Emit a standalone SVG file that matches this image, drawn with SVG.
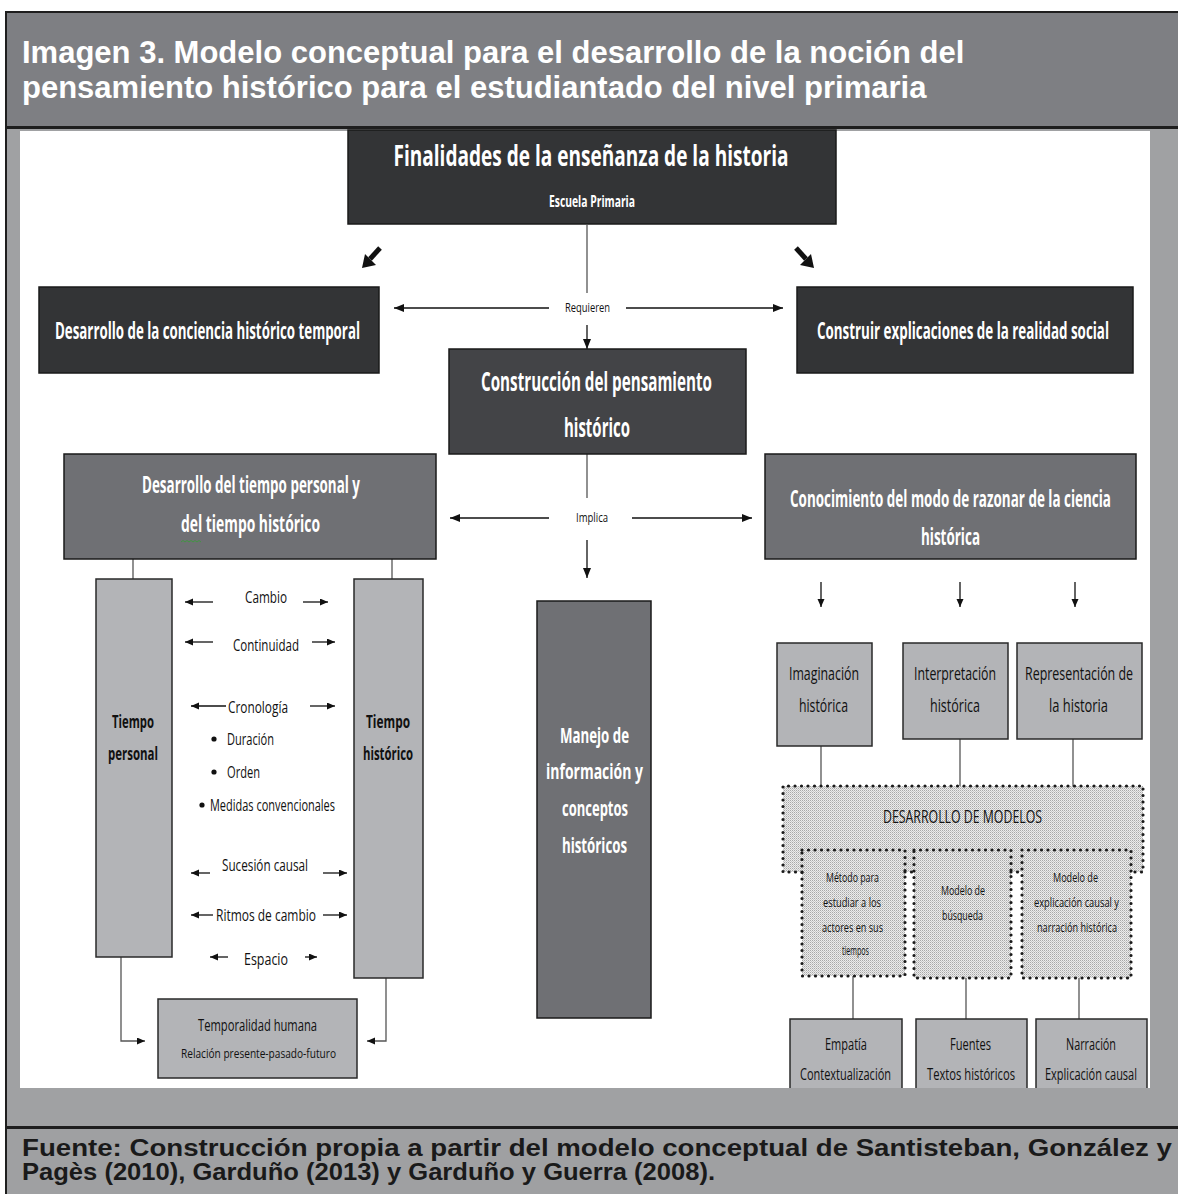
<svg xmlns="http://www.w3.org/2000/svg" width="1178" height="1194" viewBox="0 0 1178 1194">
<defs>
<marker id="ah" markerUnits="userSpaceOnUse" markerWidth="11" markerHeight="9" refX="10" refY="4" orient="auto"><path d="M0,0 L10,4 L0,8 z" fill="#111"/></marker>
<marker id="sm" markerUnits="userSpaceOnUse" markerWidth="9" markerHeight="8" refX="8" refY="3.5" orient="auto"><path d="M0,0 L8,3.5 L0,7 z" fill="#111"/></marker>
<pattern id="stip" width="2" height="2" patternUnits="userSpaceOnUse"><rect width="2" height="2" fill="#ececec"/><rect width="1" height="1" fill="#a8a8a8"/><rect x="1" y="1" width="1" height="1" fill="#c8c8c8"/></pattern>
<style>
.t{font-family:"Liberation Sans Narrow","Open Sans","Liberation Sans",sans-serif;text-anchor:middle}
.w{fill:#fff;font-weight:bold}
.k{fill:#111}
.b{font-weight:bold}
.dark{fill:#333436;stroke:#1a1a1a;stroke-width:1.5}
.mid{fill:#434447;stroke:#1a1a1a;stroke-width:1.5}
.gry{fill:#6f7074;stroke:#1a1a1a;stroke-width:1.5}
.lt{fill:#b3b4b7;stroke:#2a2a2a;stroke-width:1.5}
.ln{fill:none;stroke:#111;stroke-width:1.3}
.gl{fill:none;stroke:#555;stroke-width:1.3}
.dot{fill:none;stroke:#1a1a1a;stroke-width:3.2;stroke-dasharray:0 6.5;stroke-linecap:round}
.hd{font-family:"Liberation Sans",Arial,sans-serif;font-weight:bold;fill:#fff}
.ft{font-family:"Liberation Sans",Arial,sans-serif;font-weight:bold;fill:#1a1a1a}
</style>
</defs>
<!-- frame -->
<rect x="0" y="0" width="1178" height="1194" fill="#fff"/>
<rect x="6" y="12" width="1180" height="1190" fill="#a0a1a3" stroke="#1e1e1e" stroke-width="2"/>
<rect x="7" y="13" width="1171" height="113" fill="#7e7f83"/>
<rect x="6" y="126" width="1172" height="3" fill="#1e1e1e"/>
<rect x="20" y="131" width="1130" height="957" fill="#fff"/>
<text class="hd" x="22" y="63" font-size="31">Imagen 3. Modelo conceptual para el desarrollo de la noción del</text>
<text class="hd" x="22" y="98" font-size="31">pensamiento histórico para el estudiantado del nivel primaria</text>

<g id="connectors">
<path class="gl" d="M587,225 V293"/>
<path class="ln" d="M587,325 V349" marker-end="url(#ah)"/>
<path class="ln" d="M549,308 H394" marker-end="url(#ah)"/>
<path class="ln" d="M626,308 H783" marker-end="url(#ah)"/>
<path class="gl" d="M587,454 V498"/>
<path class="ln" d="M549,518 H450" marker-end="url(#ah)"/>
<path class="ln" d="M632,518 H752" marker-end="url(#ah)"/>
<path class="ln" d="M587,540 V578" marker-end="url(#ah)"/>
<path d="M380,248 L370,259" stroke="#111" stroke-width="5" fill="none"/>
<polygon points="362,268 365,254 376,265" fill="#111"/>
<path d="M796,248 L806,259" stroke="#111" stroke-width="5" fill="none"/>
<polygon points="814,268 811,254 800,265" fill="#111"/>
<path class="gl" d="M133,559 V579"/>
<path class="gl" d="M392,559 V579"/>
<path class="ln" d="M213,602 H185" marker-end="url(#sm)"/>
<path class="ln" d="M303,602 H328" marker-end="url(#sm)"/>
<path class="ln" d="M213,642 H185" marker-end="url(#sm)"/>
<path class="ln" d="M312,642 H335" marker-end="url(#sm)"/>
<path class="ln" d="M226,706 H191" marker-end="url(#sm)"/>
<path class="ln" d="M310,706 H335" marker-end="url(#sm)"/>
<path class="ln" d="M210,873 H191" marker-end="url(#sm)"/>
<path class="ln" d="M323,873 H347" marker-end="url(#sm)"/>
<path class="ln" d="M213,915 H191" marker-end="url(#sm)"/>
<path class="ln" d="M323,915 H347" marker-end="url(#sm)"/>
<path class="ln" d="M228,957 H210" marker-end="url(#sm)"/>
<path class="ln" d="M305,957 H317" marker-end="url(#sm)"/>
<path class="gl" d="M121,957 V1041 H145" marker-end="url(#sm)"/>
<path class="gl" d="M386,978 V1041 H367" marker-end="url(#sm)"/>
<path class="ln" d="M821,582 V607" marker-end="url(#sm)"/>
<path class="ln" d="M960,582 V607" marker-end="url(#sm)"/>
<path class="ln" d="M1075,582 V607" marker-end="url(#sm)"/>
<path class="gl" d="M821,746 V786"/>
<path class="gl" d="M960,739 V786"/>
<path class="gl" d="M1073,739 V786"/>
<path class="gl" d="M853,976 V1019"/>
<path class="gl" d="M966,978 V1019"/>
<path class="gl" d="M1079,978 V1019"/>
</g>

<g id="n-finalidades">
<rect class="dark" x="348" y="130" width="488" height="94"/>
<text class="t w" x="591" y="166" font-size="29" textLength="395" lengthAdjust="spacingAndGlyphs">Finalidades de la enseñanza de la historia</text>
<text class="t w" x="592" y="207" font-size="16" textLength="86" lengthAdjust="spacingAndGlyphs">Escuela Primaria</text>
</g>
<g id="n-conciencia">
<rect class="dark" x="39" y="287" width="340" height="86"/>
<text class="t w" x="207.5" y="339" font-size="24" textLength="305" lengthAdjust="spacingAndGlyphs">Desarrollo de la conciencia histórico temporal</text>
</g>
<g id="n-construir">
<rect class="dark" x="797" y="287" width="336" height="86"/>
<text class="t w" x="963" y="339" font-size="24" textLength="292" lengthAdjust="spacingAndGlyphs">Construir explicaciones de la realidad social</text>
</g>
<g id="l-requieren"><text class="t k" x="587.5" y="312" font-size="12" textLength="45" lengthAdjust="spacingAndGlyphs">Requieren</text></g>
<g id="n-construccion">
<rect class="mid" x="449" y="349" width="297" height="105"/>
<text class="t w" x="596.5" y="391" font-size="27" textLength="231" lengthAdjust="spacingAndGlyphs">Construcción del pensamiento</text>
<text class="t w" x="597" y="437" font-size="27" textLength="66" lengthAdjust="spacingAndGlyphs">histórico</text>
</g>
<g id="l-implica"><text class="t k" x="592" y="522" font-size="12" textLength="32" lengthAdjust="spacingAndGlyphs">Implica</text></g>
<g id="n-tiempo">
<rect class="gry" x="64" y="454" width="372" height="105"/>
<text class="t w" x="251" y="493" font-size="23" textLength="218" lengthAdjust="spacingAndGlyphs">Desarrollo del tiempo personal y</text>
<text class="t w" x="250.5" y="532" font-size="23" textLength="139" lengthAdjust="spacingAndGlyphs">del  tiempo histórico</text>
<path d="M181,542 l2,-1.5 l2,1.5 l2,-1.5 l2,1.5 l2,-1.5 l2,1.5 l2,-1.5 l2,1.5 l2,-1.5 l2,1.5" fill="none" stroke="#3c9a3c" stroke-width="0.9"/>
</g>
<g id="n-conocimiento">
<rect class="gry" x="765" y="454" width="371" height="105"/>
<text class="t w" x="950.5" y="507" font-size="24" textLength="321" lengthAdjust="spacingAndGlyphs">Conocimiento del modo de razonar de la ciencia</text>
<text class="t w" x="950.5" y="545" font-size="24" textLength="59" lengthAdjust="spacingAndGlyphs">histórica</text>
</g>
<g id="n-tpersonal">
<rect class="lt" x="96" y="579" width="76" height="378"/>
<text class="t k b" x="133" y="728" font-size="18" textLength="42" lengthAdjust="spacingAndGlyphs">Tiempo</text>
<text class="t k b" x="133" y="760" font-size="18" textLength="50" lengthAdjust="spacingAndGlyphs">personal</text>
</g>
<g id="n-thistorico">
<rect class="lt" x="354" y="579" width="69" height="399"/>
<text class="t k b" x="388" y="728" font-size="18" textLength="44" lengthAdjust="spacingAndGlyphs">Tiempo</text>
<text class="t k b" x="388" y="760" font-size="18" textLength="50" lengthAdjust="spacingAndGlyphs">histórico</text>
</g>
<g id="n-items">
<text class="t k" x="266" y="603" font-size="17" textLength="42" lengthAdjust="spacingAndGlyphs">Cambio</text>
<text class="t k" x="266" y="651" font-size="17" textLength="66" lengthAdjust="spacingAndGlyphs">Continuidad</text>
<text class="t k" x="258" y="713" font-size="17" textLength="60" lengthAdjust="spacingAndGlyphs">Cronología</text>
<circle cx="214" cy="739" r="2.6" fill="#111"/>
<text class="t k" x="250.5" y="745" font-size="17" textLength="47" lengthAdjust="spacingAndGlyphs">Duración</text>
<circle cx="214" cy="772" r="2.6" fill="#111"/>
<text class="t k" x="243.5" y="778" font-size="17" textLength="33" lengthAdjust="spacingAndGlyphs">Orden</text>
<circle cx="202" cy="805" r="2.6" fill="#111"/>
<text class="t k" x="272.5" y="811" font-size="17" textLength="125" lengthAdjust="spacingAndGlyphs">Medidas convencionales</text>
<text class="t k" x="265" y="871" font-size="17" textLength="86" lengthAdjust="spacingAndGlyphs">Sucesión causal</text>
<text class="t k" x="266" y="921" font-size="17" textLength="100" lengthAdjust="spacingAndGlyphs">Ritmos de cambio</text>
<text class="t k" x="266" y="965" font-size="17" textLength="44" lengthAdjust="spacingAndGlyphs">Espacio</text>
</g>
<g id="n-temporalidad">
<rect class="lt" x="158" y="999" width="199" height="79"/>
<text class="t k" x="257.5" y="1031" font-size="16" textLength="119" lengthAdjust="spacingAndGlyphs">Temporalidad humana</text>
<text class="t k" x="258.5" y="1058" font-size="13" textLength="155" lengthAdjust="spacingAndGlyphs">Relación presente-pasado-futuro</text>
</g>
<g id="n-manejo">
<rect class="gry" x="537" y="601" width="114" height="417"/>
<text class="t w" x="594.5" y="743" font-size="21" textLength="69" lengthAdjust="spacingAndGlyphs">Manejo de</text>
<text class="t w" x="594.5" y="779" font-size="21" textLength="97" lengthAdjust="spacingAndGlyphs">información  y</text>
<text class="t w" x="595" y="816" font-size="21" textLength="66" lengthAdjust="spacingAndGlyphs">conceptos</text>
<text class="t w" x="594.5" y="853" font-size="21" textLength="65" lengthAdjust="spacingAndGlyphs">históricos</text>
</g>
<g id="n-imaginacion">
<rect class="lt" x="777" y="643" width="95" height="103"/>
<text class="t k" x="824" y="680" font-size="18" textLength="70" lengthAdjust="spacingAndGlyphs">Imaginación</text>
<text class="t k" x="823.5" y="712" font-size="18" textLength="49" lengthAdjust="spacingAndGlyphs">histórica</text>
</g>
<g id="n-interpretacion">
<rect class="lt" x="903" y="643" width="105" height="96"/>
<text class="t k" x="955" y="680" font-size="18" textLength="82" lengthAdjust="spacingAndGlyphs">Interpretación</text>
<text class="t k" x="955" y="712" font-size="18" textLength="50" lengthAdjust="spacingAndGlyphs">histórica</text>
</g>
<g id="n-representacion">
<rect class="lt" x="1017" y="643" width="125" height="96"/>
<text class="t k" x="1079" y="680" font-size="18" textLength="108" lengthAdjust="spacingAndGlyphs">Representación de</text>
<text class="t k" x="1078.5" y="712" font-size="18" textLength="59" lengthAdjust="spacingAndGlyphs">la historia</text>
</g>
<g id="n-modelos">
<rect x="783" y="786" width="360" height="86" fill="url(#stip)"/>
<rect x="802" y="850" width="103" height="126" fill="url(#stip)"/>
<rect x="914" y="850" width="97" height="128" fill="url(#stip)"/>
<rect x="1022" y="850" width="109" height="128" fill="url(#stip)"/>
<path class="dot" d="M802,872 H783 V786 H1143 V872 H1131"/>
<path class="dot" d="M905,872 H914 M1011,872 H1022"/>
<rect class="dot" x="802" y="850" width="103" height="126"/>
<rect class="dot" x="914" y="850" width="97" height="128"/>
<rect class="dot" x="1022" y="850" width="109" height="128"/>
<text class="t k" x="962.5" y="823" font-size="18" textLength="159" lengthAdjust="spacingAndGlyphs">DESARROLLO DE MODELOS</text>
<text class="t k" x="852.5" y="882" font-size="12" textLength="53" lengthAdjust="spacingAndGlyphs">Método para</text>
<text class="t k" x="852" y="907" font-size="12" textLength="58" lengthAdjust="spacingAndGlyphs">estudiar a los</text>
<text class="t k" x="852.5" y="932" font-size="12" textLength="61" lengthAdjust="spacingAndGlyphs">actores en sus</text>
<text class="t k" x="855.5" y="955" font-size="12" textLength="27" lengthAdjust="spacingAndGlyphs">tiempos</text>
<text class="t k" x="963" y="895" font-size="12" textLength="44" lengthAdjust="spacingAndGlyphs">Modelo de</text>
<text class="t k" x="962.5" y="920" font-size="12" textLength="41" lengthAdjust="spacingAndGlyphs">búsqueda</text>
<text class="t k" x="1075.5" y="882" font-size="12" textLength="45" lengthAdjust="spacingAndGlyphs">Modelo de</text>
<text class="t k" x="1076.5" y="907" font-size="12" textLength="85" lengthAdjust="spacingAndGlyphs">explicación causal y</text>
<text class="t k" x="1077" y="932" font-size="12" textLength="80" lengthAdjust="spacingAndGlyphs">narración histórica</text>
</g>
<g id="n-empatia">
<rect class="lt" x="790" y="1019" width="112" height="80"/>
<text class="t k" x="846" y="1050" font-size="17" textLength="42" lengthAdjust="spacingAndGlyphs">Empatía</text>
<text class="t k" x="845.5" y="1080" font-size="17" textLength="91" lengthAdjust="spacingAndGlyphs">Contextualización</text>
</g>
<g id="n-fuentes">
<rect class="lt" x="916" y="1019" width="111" height="80"/>
<text class="t k" x="970.5" y="1050" font-size="17" textLength="41" lengthAdjust="spacingAndGlyphs">Fuentes</text>
<text class="t k" x="971" y="1080" font-size="17" textLength="88" lengthAdjust="spacingAndGlyphs">Textos históricos</text>
</g>
<g id="n-narracion">
<rect class="lt" x="1036" y="1019" width="111" height="80"/>
<text class="t k" x="1091" y="1050" font-size="17" textLength="50" lengthAdjust="spacingAndGlyphs">Narración</text>
<text class="t k" x="1091" y="1080" font-size="17" textLength="92" lengthAdjust="spacingAndGlyphs">Explicación causal</text>
</g>
<!-- bottom band and footer -->
<rect x="7" y="1088" width="1171" height="38" fill="#a0a1a3"/>
<rect x="6" y="1126" width="1172" height="3" fill="#1e1e1e"/>
<rect x="7" y="1129" width="1171" height="65" fill="#9fa0a2"/>
<text class="ft" x="22" y="1156" font-size="23" textLength="1150" lengthAdjust="spacingAndGlyphs">Fuente: Construcción propia a partir del modelo conceptual de Santisteban, González y</text>
<text class="ft" x="22" y="1180" font-size="23" textLength="693" lengthAdjust="spacingAndGlyphs">Pagès (2010), Garduño (2013) y Garduño y Guerra (2008).</text>
</svg>
